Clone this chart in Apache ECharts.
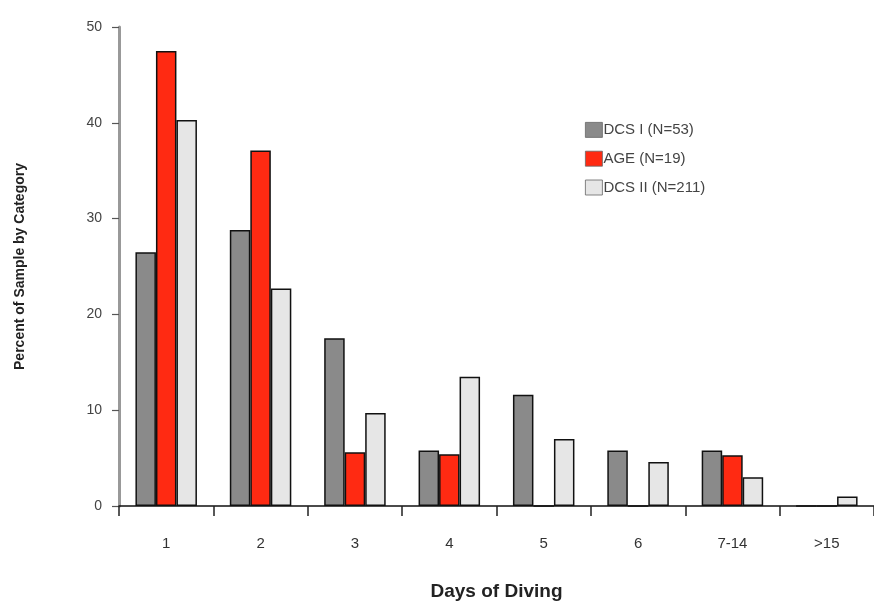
<!DOCTYPE html>
<html>
<head>
<meta charset="utf-8">
<script src="https://cdn.jsdelivr.net/npm/echarts@6/dist/echarts.min.js"></script>
<style>html,body{margin:0;padding:0;background:#fff;}#c{width:874px;height:607px;}</style>
</head>
<body>
<div id="c"></div>
<script>
const categories = ['1', '2', '3', '4', '5', '6', '7-14', '>15'];
const seriesNames = ['DCS I (N=53)', 'AGE (N=19)', 'DCS II (N=211)'];
const dcs1 = [26.5, 28.8, 17.5, 5.8, 11.6, 5.8, 5.8, 0];
const age = [47.5, 37.1, 5.6, 5.4, 0, 0, 5.3, 0];
const dcs2 = [40.3, 22.7, 9.7, 13.5, 7.0, 4.6, 3.0, 1.0];
const yTicks = [0, 10, 20, 30, 40, 50];

const chart = echarts.init(document.getElementById('c'), null, {renderer: 'canvas'});
const font = '"Liberation Sans", Arial, sans-serif';
function bar(name, data, color) {
  return {
    name: name, type: 'bar', data: data, barWidth: 20.5, barGap: '0%',
    itemStyle: {color: color, borderColor: '#111', borderWidth: 1.5},
    emphasis: {disabled: true}
  };
}
chart.setOption({
  animation: false,
  backgroundColor: '#fff',
  textStyle: {fontFamily: font},
  grid: {left: 119, top: 27, height: 479, width: 762},
  legend: {
    orient: 'vertical', left: 585, top: 122, padding: 0, itemWidth: 17, itemHeight: 15, itemGap: 13,
    icon: 'rect',
    textStyle: {fontSize: 15, color: '#444', fontFamily: font, padding: [0, 0, 0, -4]},
    itemStyle: {borderWidth: 0.8, borderColor: '#666'},
    data: seriesNames
  },
  xAxis: {
    type: 'category', data: categories, boundaryGap: true,
    axisLine: {show: true, lineStyle: {color: '#111', width: 1.5}},
    axisTick: {show: true, length: 10, inside: false, alignWithLabel: false, lineStyle: {color: '#222', width: 1.5}},
    axisLabel: {fontSize: 15, color: '#333', margin: 30, fontFamily: font},
    name: 'Days of Diving', nameLocation: 'middle', nameGap: 76,
    nameTextStyle: {fontSize: 19, fontWeight: 'bold', color: '#222', fontFamily: font}
  },
  yAxis: {
    type: 'value', min: 0, max: 50, interval: 10,
    axisLine: {show: true, lineStyle: {color: '#999', width: 3}},
    axisTick: {show: true, length: 7, lineStyle: {color: '#555', width: 1.2}},
    axisLabel: {fontSize: 14, color: '#444', margin: 17, fontFamily: font,
      formatter: function (v) { return yTicks.indexOf(v) >= 0 ? String(v) : ''; }},
    splitLine: {show: false},
    name: 'Percent of Sample by Category', nameLocation: 'middle', nameGap: 92,
    nameTextStyle: {fontSize: 14, fontWeight: 'bold', color: '#222', fontFamily: font}
  },
  series: [
    bar(seriesNames[0], dcs1, '#8a8a8a'),
    bar(seriesNames[1], age, '#ff2a12'),
    bar(seriesNames[2], dcs2, '#e6e6e6')
  ]
});
</script>
</body>
</html>
